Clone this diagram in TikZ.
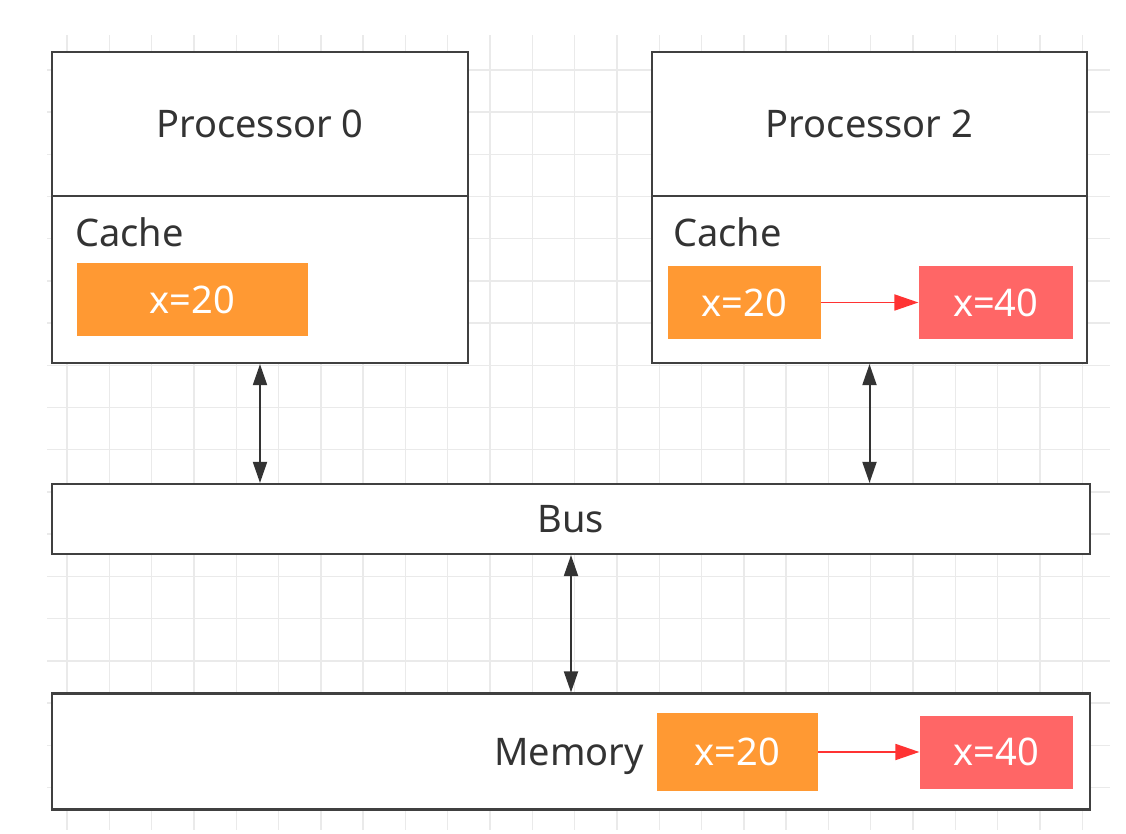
\documentclass[tikz,border=0pt]{standalone}
\usepackage{fontspec}
\setmainfont{Noto Sans}
\usetikzlibrary{arrows.meta,positioning}
\definecolor{gridgray}{HTML}{EAEAEA}
\definecolor{linegray}{HTML}{404040}
\definecolor{txtgray}{HTML}{333333}
\definecolor{valorange}{HTML}{FF9933}
\definecolor{valred}{HTML}{FF6666}
\definecolor{arrred}{HTML}{FF3333}
\tikzset{
  box/.style={draw=linegray,line width=1.1pt,fill=white,rectangle,inner sep=0pt,text=txtgray},
  val/.style={rectangle,inner sep=0pt,text=white,minimum height=36.5pt},
  lbl/.style={inner sep=0pt,anchor=base west,text=txtgray},
  busarrow/.style={{Triangle[length=10.5pt,width=7pt]}-{Triangle[length=10.5pt,width=7pt]},line width=1pt,draw=txtgray,fill=txtgray},
  chg/.style={-{Triangle[length=12pt,width=8pt]},line width=0.9pt,draw=arrred,fill=arrred}
}

\begin{document}
\begin{tikzpicture}[x=0.5pt,y=-0.5pt,font=\fontsize{19pt}{22pt}\selectfont]
  \useasboundingbox (0,0) rectangle (1126,834);
  % grid
  \foreach \i in {0,...,24}
    \draw[gridgray,line width=0.7pt] (67+\i*42.3,35) -- (67+\i*42.3,830);
  \foreach \j in {0,...,17}
    \draw[gridgray,line width=0.7pt] (47,70+\j*42.2) -- (1110,70+\j*42.2);

  % processors with caches
  \node[box,minimum width=208pt,minimum height=72pt] (p0) at (260,124) {Processor 0};
  \node[box,minimum width=208pt,minimum height=83.5pt] (c0) at (260,279.5) {};
  \node[lbl] (cl0) at (75,247) {Cache};
  \node[val,fill=valorange,minimum width=115.5pt] (v0) at (192.5,299.5) {x=20};

  \node[box,minimum width=217.5pt,minimum height=72pt] (p2) at (869.5,124) {Processor 2};
  \node[box,minimum width=217.5pt,minimum height=83.5pt] (c2) at (869.5,279.5) {};
  \node[lbl] (cl2) at (673,247) {Cache};
  \node[val,fill=valorange,minimum width=76.5pt] (v2a) at (744.5,302.5) {x=20};
  \node[val,fill=valred,minimum width=77pt,right=48.5pt of v2a] (v2b) {x=40};

  % bus and memory
  \node[box,minimum width=519pt,minimum height=35pt] (bus) at (571,519) {Bus};
  \node[box,minimum width=519pt,minimum height=58pt] (mem) at (571,751.5) {};
  \node[inner sep=0pt,anchor=base,text=txtgray] (ml) at (569,765) {Memory};
  \node[val,fill=valorange,minimum width=80.5pt,minimum height=39pt] (m0) at (737.5,752) {x=20};
  \node[val,fill=valred,minimum width=76.5pt,right=50.5pt of m0] (m1) {x=40};

  \draw[busarrow] (c0.south) -- (c0.south |- bus.north);
  \draw[busarrow] (c2.south) -- (c2.south |- bus.north);
  \draw[busarrow] (bus.south) -- (mem.north);
  \draw[chg] (v2a) -- (v2b);
  \draw[chg] (m0) -- (m1);
\end{tikzpicture}
\end{document}
